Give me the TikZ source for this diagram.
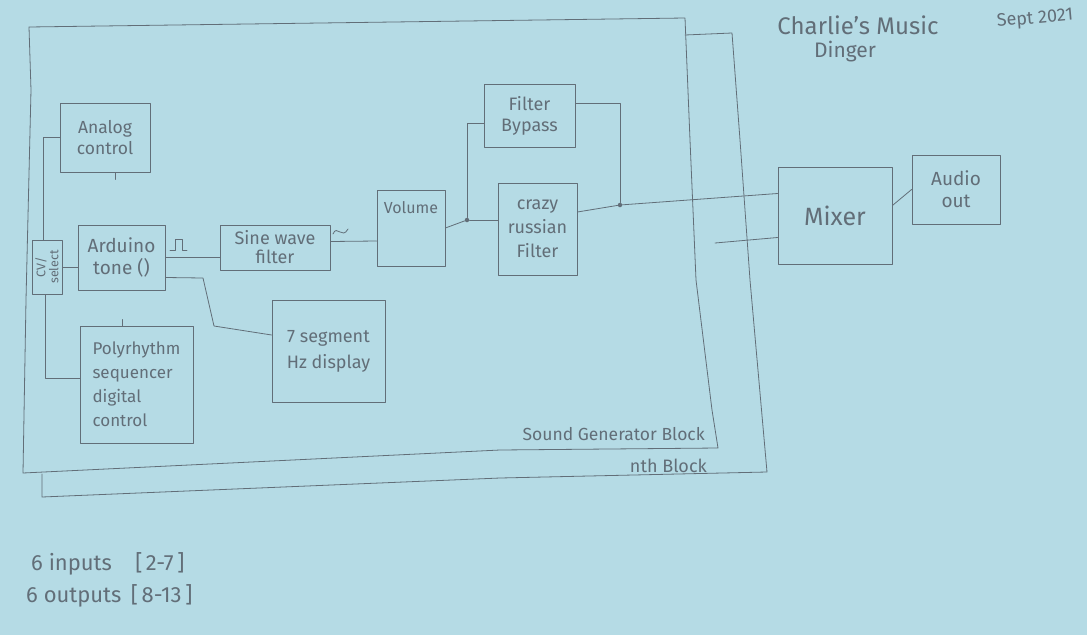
\documentclass[tikz,border=0pt]{standalone}
\usepackage{fontspec}
\setmainfont{Fira Sans}
\usetikzlibrary{calc}
\definecolor{paper}{RGB}{181,219,229}
\definecolor{pencil}{RGB}{98,110,120}
\tikzset{
  pen/.style={draw=pencil, line width=0.8pt, line join=round, line cap=round},
  hand/.style={text=pencil, font=\fontsize{18}{20}\selectfont, align=center, inner sep=1pt},
  blockbox/.style={pen, hand, inner sep=2pt},
  joint/.style={circle, fill=pencil, inner sep=0pt, minimum size=4.5pt},
}
\begin{document}
\begin{tikzpicture}[x=1pt,y=-1pt]
\fill[paper] (0,0) rectangle (1087,635);
\useasboundingbox (0,0) rectangle (1087,635);

% outer frames: the nth block behind the sound generator block
\draw[pen] (685,35) -- (732,33) -- (740,140) -- (750,280) -- (767,472)
  -- (500,478) -- (42,497) -- (42,474);
\draw[pen] (29,27) -- (685,18) -- (690,140) -- (696,280) -- (712,410) -- (718,448)
  -- (500,450) -- (23,473) -- (26,300) -- (31,90) -- cycle;
\node[hand, font=\fontsize{17.5}{20}\selectfont, anchor=east] (sgblabel) at (706,434) {Sound Generator Block};
\node[hand, font=\fontsize{18}{20}\selectfont, anchor=east] (nthlabel) at (708,466) {nth Block};

% blocks
\node[blockbox, minimum width=90pt, minimum height=69pt, font=\fontsize{17.5}{21}\selectfont] (analog) at (105,137.5) {Analog\\control};
\node[pen, minimum width=30pt, minimum height=54pt] (cv) at (47,267) {};
\node[hand, rotate=90, font=\fontsize{12.5}{13}\selectfont] (cvtext) at (cv.center) {CV/\\select};
\node[blockbox, minimum width=87pt, minimum height=65pt, font=\fontsize{19}{22}\selectfont] (arduino) at (121.5,257.5) {Arduino\\tone ()};
\node[blockbox, minimum width=110pt, minimum height=45pt, font=\fontsize{18}{19}\selectfont] (sine) at (275,247.5) {Sine wave\\filter};
\node[pen, minimum width=68pt, minimum height=76pt] (volume) at (411,228) {};
\node[hand, font=\fontsize{16}{18}\selectfont] (voltext) at (411,208) {Volume};
\node[blockbox, minimum width=91pt, minimum height=63pt, font=\fontsize{18}{21}\selectfont] (bypass) at (529.5,115.5) {Filter\\Bypass};
\node[blockbox, minimum width=79pt, minimum height=92pt, font=\fontsize{18}{24}\selectfont] (crazy) at (537.5,229) {crazy\\russian\\Filter};
\node[blockbox, minimum width=113pt, minimum height=102pt, font=\fontsize{18}{26}\selectfont] (seg) at (328.5,351) {7 segment\\Hz display};
\node[blockbox, minimum width=113pt, minimum height=117pt, align=left, font=\fontsize{17}{24}\selectfont] (poly) at (136.5,384.5) {Polyrhythm\\sequencer\\digital\\control};
\node[blockbox, minimum width=114pt, minimum height=97pt, font=\fontsize{25}{28}\selectfont] (mixer) at (835,215.5) {Mixer};
\node[blockbox, minimum width=88pt, minimum height=69pt, font=\fontsize{19}{22}\selectfont] (audio) at (956,189.5) {Audio\\out};

% junctions of the filter / bypass pair
\node[joint] (j1) at (467,220) {};
\node[joint] (j2) at (620,205) {};
\coordinate (nthout) at (715,243);

% control wiring
\draw[pen] (analog.west) -| ($(cv.north)+(-4,0)$);
\draw[pen] ($(analog.south)+(10,0)$) -- ++(0,7);
\draw[pen] ($(poly.north)+(-14,0)$) -- ++(0,-6);
\draw[pen] (cv.east) -- (cv.east -| arduino.west);
\draw[pen] ($(cv.south)+(-2,0)$) |- ($(poly.west)+(0,-6)$);

% signal chain
\draw[pen] (arduino.east) -- (arduino.east -| sine.west);
\draw[pen] (170,250) -- (175,250) -- (175,239) -- (182,239) -- (182,250) -- (187,250);
\draw[pen] ($(arduino.east)+(0,20)$) -- (203,278) -- (214,326) -- ($(seg.west)+(0,-16)$);
\draw[pen] ($(sine.east)+(0,-6)$) -- ($(volume.west)+(0,13)$);
\draw[pen] (333,234) .. controls (337,224) and (342,240) .. (348,229);
\draw[pen] (volume.east) -- (j1);
\draw[pen] (j1) -- (j1 -| crazy.west);
\draw[pen] (j1) |- ($(bypass.west)+(0,8)$);
\draw[pen] ($(crazy.east)+(0,-17)$) -- (j2);
\draw[pen] ($(bypass.east)+(0,-12)$) -| (j2);
\draw[pen] (j2) -- ($(mixer.west)+(0,-22)$);
\draw[pen] (nthout) -- ($(mixer.west)+(0,22)$);
\draw[pen] ($(mixer.east)+(0,-10)$) -- (audio.west);

% notes
\node[hand, font=\fontsize{24}{26}\selectfont] (title) at (858,25) {Charlie's Music};
\node[hand, font=\fontsize{21}{23}\selectfont] (title2) at (845,52) {Dinger};
\node[hand, font=\fontsize{18}{20}\selectfont, rotate=5] (date) at (1035,19) {Sept 2021};
\node[hand, font=\fontsize{22}{24}\selectfont, anchor=west] (ins) at (30,564) {6 inputs \ \ \ [\,2-7\,]};
\node[hand, font=\fontsize{22}{24}\selectfont, anchor=west] (outs) at (25,596) {6 outputs \,[\,8-13\,]};
\end{tikzpicture}
\end{document}
